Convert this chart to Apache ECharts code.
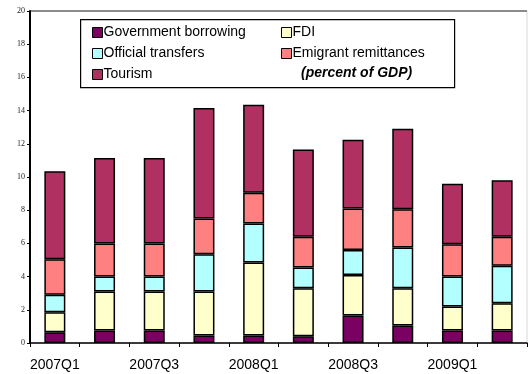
<!DOCTYPE html>
<html>
<head>
<meta charset="utf-8">
<script src="https://cdn.jsdelivr.net/npm/echarts@6/dist/echarts.min.js"></script>
<style>
  html, body { margin: 0; padding: 0; background: #fff; }
  #chart { width: 528px; height: 374px; }
</style>
</head>
<body>
<div id="chart"></div>
<script>
// Quarterly external inflows, percent of GDP (stacked bottom to top)
const quarters = ['2007Q1','2007Q2','2007Q3','2007Q4','2008Q1','2008Q2','2008Q3','2008Q4','2009Q1','2009Q2'];
const governmentBorrowing = [0.65, 0.75, 0.75, 0.45, 0.45, 0.40, 1.65, 1.05, 0.75, 0.75];
const fdi                 = [1.20, 2.35, 2.35, 2.65, 4.40, 2.90, 2.45, 2.25, 1.45, 1.65];
const officialTransfers   = [1.05, 0.90, 0.90, 2.25, 2.35, 1.25, 1.50, 2.45, 1.80, 2.25];
const emigrantRemittances = [2.15, 2.00, 2.00, 2.15, 1.85, 1.85, 2.50, 2.30, 1.95, 1.75];
const tourism             = [5.30, 5.15, 5.15, 6.65, 5.30, 5.25, 4.15, 4.85, 3.65, 3.40];
const yTicks = [0, 2, 4, 6, 8, 10, 12, 14, 16, 18, 20];

const FONT = "Arial, 'Liberation Sans', sans-serif";

const seriesDefs = [
  { name: 'Government borrowing', data: governmentBorrowing, color: '#7a0062' },
  { name: 'FDI',                  data: fdi,                 color: '#ffffcc' },
  { name: 'Official transfers',   data: officialTransfers,   color: '#b3ffff' },
  { name: 'Emigrant remittances', data: emigrantRemittances, color: '#ff8080' },
  { name: 'Tourism',              data: tourism,             color: '#b03062' }
];

// only the top gridline (at the axis maximum) is drawn, as the plot frame
const splitColors = yTicks.map((v, i) => (i === yTicks.length - 1 ? '#8c8c8c' : 'rgba(0,0,0,0)'));

const chart = echarts.init(document.getElementById('chart'), null, { renderer: 'canvas' });

const legendCommon = {
  orient: 'vertical',
  itemWidth: 10,
  itemHeight: 10,
  itemGap: 4,
  icon: 'rect',
  selectedMode: false,
  padding: 0,
  z: 10,
  itemStyle: { borderColor: '#000', borderWidth: 1 },
  textStyle: { fontFamily: FONT, fontSize: 14, color: '#000', lineHeight: 17, padding: [0, 0, 0, -4] }
};

chart.setOption({
  animation: false,
  backgroundColor: '#fff',
  grid: {
    left: 30, right: 1, top: 11, bottom: 31,
    show: true, borderColor: '#d8d8d8', borderWidth: 1, backgroundColor: 'transparent'
  },
  legend: [
    Object.assign({}, legendCommon, {
      left: 92, top: 24,
      data: ['Government borrowing', 'Official transfers', 'Tourism']
    }),
    Object.assign({}, legendCommon, {
      left: 281, top: 24,
      data: ['FDI', 'Emigrant remittances']
    })
  ],
  graphic: [
    {
      type: 'rect', left: 80, top: 19, z: 1,
      shape: { width: 374, height: 68 },
      style: { fill: '#fff', stroke: '#000', lineWidth: 1.2 }
    },
    {
      type: 'text', left: 301, top: 66, z: 10,
      style: {
        text: '(percent of GDP)', fill: '#000',
        font: "italic bold 14px Arial, 'Liberation Sans', sans-serif"
      }
    }
  ],
  xAxis: {
    type: 'category',
    data: quarters,
    boundaryGap: true,
    axisLine: { lineStyle: { color: '#000', width: 1.5 } },
    axisTick: { show: true, interval: 0, length: 4, lineStyle: { color: '#000' } },
    axisLabel: { interval: 1, margin: 15, fontFamily: FONT, fontSize: 14, color: '#000' },
    splitLine: { show: false }
  },
  yAxis: {
    type: 'value',
    min: yTicks[0],
    max: yTicks[yTicks.length - 1],
    interval: 2,
    axisLine: { show: true, lineStyle: { color: '#000', width: 2 } },
    axisTick: { show: true, length: 3, lineStyle: { color: '#000' } },
    axisLabel: { margin: 5, fontFamily: "'Liberation Serif', 'DejaVu Serif', serif", fontSize: 8, color: '#222' },
    splitLine: { show: true, lineStyle: { color: splitColors, width: 2 } }
  },
  series: seriesDefs.map(s => ({
    name: s.name,
    type: 'bar',
    stack: 'total',
    barWidth: 21,
    data: s.data,
    itemStyle: { color: s.color, borderColor: '#000', borderWidth: 1.5 },
    emphasis: { disabled: true }
  }))
});
</script>
</body>
</html>
